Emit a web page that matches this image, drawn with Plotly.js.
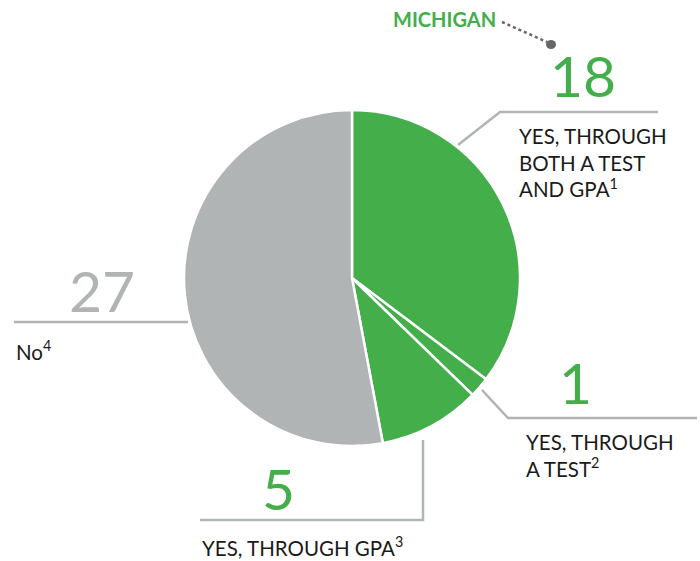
<!DOCTYPE html>
<html>
<head>
<meta charset="utf-8">
<script src="https://cdn.plot.ly/plotly-3.0.1.min.js"></script>
<style>html,body{margin:0;padding:0;background:#fff;}#chart{width:700px;height:561px;}</style>
</head>
<body>
<div id="chart"></div>
<script>
// Data
var categories = ["YES, THROUGH BOTH A TEST AND GPA", "YES, THROUGH A TEST", "YES, THROUGH GPA", "No"];
var values = [18, 1, 5, 27];
var sliceColors = ["#43ae4a", "#43ae4a", "#43ae4a", "#b0b4b4"];
var labelTexts = ["YES, THROUGH<br>BOTH A TEST<br>AND GPA<sup>1</sup>", "YES, THROUGH<br>A TEST<sup>2</sup>", "YES, THROUGH GPA<sup>3</sup>", "No<sup>4</sup>"];
var numberColors = ["#43ae4a", "#43ae4a", "#43ae4a", "#b0b4b4"];
var highlightLabel = "MICHIGAN";

var W = 700, H = 561;
function px(x){ return x / W; }
function py(y){ return 1 - y / H; }

var trace = {
  type: "pie",
  labels: categories,
  values: values,
  sort: false,
  direction: "clockwise",
  rotation: 0,
  textinfo: "none",
  hoverinfo: "none",
  marker: { colors: sliceColors, line: { color: "#ffffff", width: 2.5 } },
  domain: { x: [px(184), px(520)], y: [py(446), py(110)] },
  showlegend: false
};

var lineColor = "#b0b4b4";
var shapes = [
  {type:"path", xref:"paper", yref:"paper", path:"M "+px(458)+","+py(145)+" L "+px(500)+","+py(112)+" L "+px(658)+","+py(112), line:{color:lineColor,width:2.5}},
  {type:"line", xref:"paper", yref:"paper", x0:px(14), y0:py(322), x1:px(188), y1:py(322), line:{color:lineColor,width:2.5}},
  {type:"path", xref:"paper", yref:"paper", path:"M "+px(482)+","+py(390)+" L "+px(508)+","+py(418)+" L "+px(697)+","+py(418), line:{color:lineColor,width:2.5}},
  {type:"path", xref:"paper", yref:"paper", path:"M "+px(423)+","+py(440)+" L "+px(423)+","+py(520)+" L "+px(200)+","+py(520), line:{color:lineColor,width:2.5}},
  {type:"line", xref:"paper", yref:"paper", x0:px(502), y0:py(22), x1:px(547), y1:py(42), line:{color:"#666666",width:2.5,dash:"dot"}},
  {type:"circle", xref:"paper", yref:"paper", x0:px(546), y0:py(40), x1:px(556), y1:py(49), fillcolor:"#666666", line:{width:0}}
];

var numFont = "Lato, 'Open Sans', sans-serif";
var txtSize = 20.5;
var annotations = [
  {xref:"paper", yref:"paper", x:px(583), y:py(75), text:String(values[0]), showarrow:false, xanchor:"center", yanchor:"middle", font:{family:numFont,size:57,color:numberColors[0]}},
  {xref:"paper", yref:"paper", x:px(517), y:py(162), text:labelTexts[0], showarrow:false, xanchor:"left", yanchor:"middle", align:"left", font:{family:numFont,size:txtSize,color:"#1a1a1a"}},
  {xref:"paper", yref:"paper", x:px(575), y:py(382), text:String(values[1]), showarrow:false, xanchor:"center", yanchor:"middle", font:{family:numFont,size:57,color:numberColors[1]}},
  {xref:"paper", yref:"paper", x:px(524), y:py(455), text:labelTexts[1], showarrow:false, xanchor:"left", yanchor:"middle", align:"left", font:{family:numFont,size:txtSize,color:"#1a1a1a"}},
  {xref:"paper", yref:"paper", x:px(278), y:py(488), text:String(values[2]), showarrow:false, xanchor:"center", yanchor:"middle", font:{family:numFont,size:57,color:numberColors[2]}},
  {xref:"paper", yref:"paper", x:px(200), y:py(546), text:labelTexts[2], showarrow:false, xanchor:"left", yanchor:"middle", align:"left", font:{family:numFont,size:txtSize,color:"#1a1a1a"}},
  {xref:"paper", yref:"paper", x:px(102), y:py(290), text:String(values[3]), showarrow:false, xanchor:"center", yanchor:"middle", font:{family:numFont,size:57,color:numberColors[3]}},
  {xref:"paper", yref:"paper", x:px(14), y:py(350), text:labelTexts[3], showarrow:false, xanchor:"left", yanchor:"middle", align:"left", font:{family:numFont,size:txtSize,color:"#1a1a1a"}},
  {xref:"paper", yref:"paper", x:px(391), y:py(19), text:"<b>"+highlightLabel+"</b>", showarrow:false, xanchor:"left", yanchor:"middle", font:{family:numFont,size:20,color:"#43ae4a"}}
];

var layout = {
  width: W, height: H,
  margin: {l:0, r:0, t:0, b:0},
  paper_bgcolor: "#ffffff",
  plot_bgcolor: "#ffffff",
  shapes: shapes,
  annotations: annotations,
  showlegend: false
};

Plotly.newPlot("chart", [trace], layout, {displayModeBar:false, staticPlot:true});
</script>
</body>
</html>
